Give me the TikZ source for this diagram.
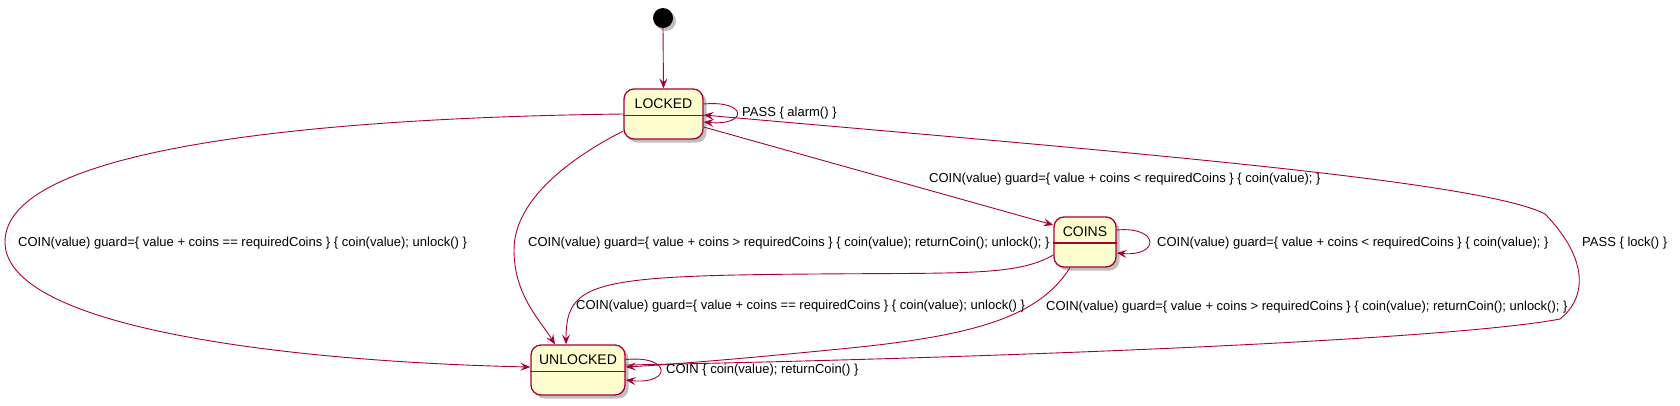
\documentclass[tikz,border=0pt]{standalone}
\usepackage{fontspec}
\setmainfont{Liberation Sans}
\usetikzlibrary{arrows.meta,shadows}
\definecolor{umlline}{HTML}{A80036}
\definecolor{umlfill}{HTML}{FEFECE}
\tikzset{
  statebox/.style={draw=umlline, fill=umlfill, line width=1.3pt, rounded corners=10pt,
    minimum height=50pt, inner sep=0pt,
    drop shadow={shadow xshift=3.5pt, shadow yshift=-3.5pt, opacity=0.25, fill=black}},
  statename/.style={font=\fontsize{14}{16}\selectfont, inner sep=0pt},
  divider/.style={draw=umlline, line width=1.3pt},
  edge/.style={draw=umlline, line width=0.9pt, -{Stealth[length=10pt,width=8pt,inset=4pt]}},
  elabel/.style={font=\fontsize{13}{15}\selectfont, inner sep=0pt, anchor=west},
  initstate/.style={circle, fill=black, minimum size=20pt, inner sep=0pt,
    drop shadow={shadow xshift=3pt, shadow yshift=-3pt, opacity=0.25, fill=black}}
}
\begin{document}
\begin{tikzpicture}[x=1pt,y=-1pt]
\useasboundingbox (0,0) rectangle (1680,405);

% states
\node[initstate] (I) at (663,18) {};
\node[statebox, minimum width=79pt] (L) at (663.5,114) {};
\node[statebox, minimum width=62pt] (C) at (1085,242) {};
\node[statebox, minimum width=94pt] (U) at (578,370) {};

\draw[divider] ([yshift=-27pt]L.north west) -- ([yshift=-27pt]L.north east);
\draw[divider] ([yshift=-26.5pt]C.north west) -- ([yshift=-26.5pt]C.north east);
\draw[divider] ([yshift=-27pt]U.north west) -- ([yshift=-27pt]U.north east);

\node[statename] (Lt) at ([yshift=-15pt]L.north) {LOCKED};
\node[statename] (Ct) at ([yshift=-15pt]C.north) {COINS};
\node[statename] (Ut) at ([yshift=-15.5pt]U.north) {UNLOCKED};

% initial
\draw[edge] (I.south) -- (L.north);

% LOCKED -> UNLOCKED (==), big left curve
\draw[edge] (L.west) .. controls (300,118) and (5,150) .. (5,242)
  .. controls (5,330) and (300,362) .. ([yshift=3pt]U.west);
\node[elabel] (e1) at (18,242.7) {COIN(value) guard=\{ value + coins == requiredCoins \} \{ coin(value); unlock() \}};

% LOCKED -> UNLOCKED (>)
\draw[edge] ([yshift=-17pt]L.west) .. controls (570,158) and (514,200) .. (514,250)
  .. controls (514,295) and (540,320) .. ([xshift=-23pt]U.north);
\node[elabel] (e2) at (528,242.7) {COIN(value) guard=\{ value + coins > requiredCoins \} \{ coin(value); returnCoin(); unlock(); \}};

% LOCKED -> COINS (<)
\draw[edge] ([yshift=-13pt]L.east) -- ([yshift=17pt]C.west);
\node[elabel] (e3) at (929,179) {COIN(value) guard=\{ value + coins < requiredCoins \} \{ coin(value); \}};

% COINS self loop
\draw[edge] ([yshift=12pt]C.east) .. controls (1160,226) and (1160,257) .. ([yshift=-11pt]C.east);
\node[elabel] (e4) at (1157,242.7) {COIN(value) guard=\{ value + coins < requiredCoins \} \{ coin(value); \}};

% COINS -> UNLOCKED (==)
\draw[edge] ([yshift=-13pt]C.west) .. controls (1025,271) and (990,273) .. (900,273.5)
  .. controls (600,275) and (566,275) .. ([xshift=-12pt]U.north);
\node[elabel] (e5) at (576,306) {COIN(value) guard=\{ value + coins == requiredCoins \} \{ coin(value); unlock() \}};

% COINS -> UNLOCKED (>)
\draw[edge] ([xshift=-15pt]C.south) .. controls (1040,315) and (980,335) .. (850,348)
  .. controls (760,357) and (680,364) .. ([yshift=3pt]U.east);
\node[elabel] (e6) at (1046,306.7) {COIN(value) guard=\{ value + coins > requiredCoins \} \{ coin(value); returnCoin(); unlock(); \}};

% UNLOCKED -> LOCKED (PASS lock)
\draw[edge] ([yshift=5pt]U.east) .. controls (1000,358) and (1450,340) .. (1560,319)
  .. controls (1590,295) and (1585,255) .. (1545,214)
  .. controls (1480,180) and (1100,150) .. ([yshift=-1pt]L.east);
\node[elabel] (e7) at (1582,242.7) {PASS \{ lock() \}};

% LOCKED self loop
\draw[edge] ([yshift=10pt]L.east) .. controls (748,100) and (748,126) .. ([yshift=-8pt]L.east);
\node[elabel] (e8) at (742,113) {PASS \{ alarm() \}};

% UNLOCKED self loop
\draw[edge] ([yshift=10.5pt]U.east) .. controls (672,355) and (672,385) .. ([yshift=-10pt]U.east);
\node[elabel] (e9) at (666,370.5) {COIN \{ coin(value); returnCoin() \}};
\end{tikzpicture}
\end{document}
